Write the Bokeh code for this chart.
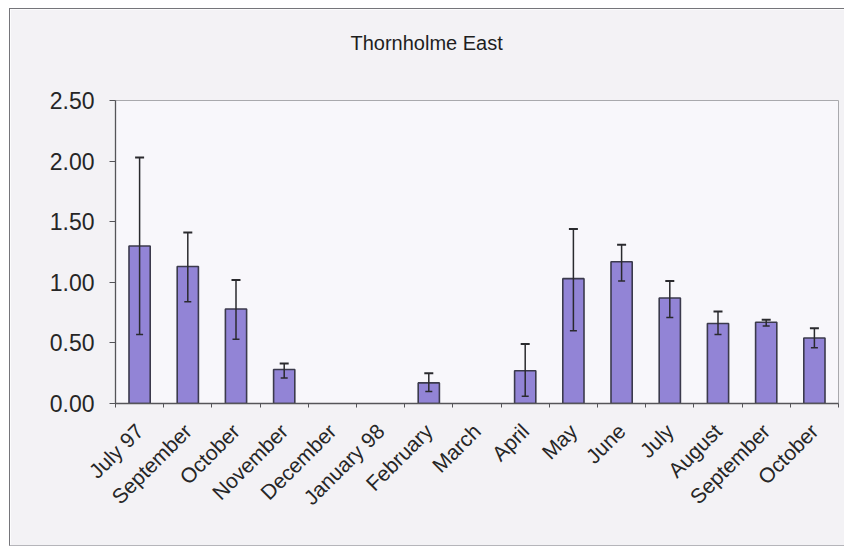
import math
from bokeh.plotting import figure
from bokeh.models import (ColumnDataSource, Whisker, TeeHead, FixedTicker,
                          NumeralTickFormatter, Range1d, Title)
from bokeh.embed import file_html
from bokeh.resources import INLINE

title_text = "Thornholme East"
months = ["July 97", "September", "October", "November", "December", "January 98",
          "February", "March", "April", "May", "June", "July", "August",
          "September", "October"]
means = [1.30, 1.13, 0.78, 0.28, 0.0, 0.0, 0.17, 0.0, 0.27, 1.03, 1.17, 0.87, 0.66, 0.67, 0.54]
err_upper = [2.03, 1.41, 1.02, 0.33, None, None, 0.25, None, 0.49, 1.44, 1.31, 1.01, 0.76, 0.69, 0.62]
err_lower = [0.57, 0.84, 0.53, 0.21, None, None, 0.10, None, 0.06, 0.60, 1.01, 0.71, 0.57, 0.64, 0.46]
y_ticks = [0.0, 0.5, 1.0, 1.5, 2.0, 2.5]

n = len(months)
centers = [i + 0.5 for i in range(n)]
boundaries = [float(i) for i in range(n + 1)]

bars = ColumnDataSource(dict(
    x=[c for c, m in zip(centers, means) if m > 0],
    top=[m for m in means if m > 0],
))
errs = ColumnDataSource(dict(
    x=[c for c, u in zip(centers, err_upper) if u is not None],
    upper=[u for u in err_upper if u is not None],
    lower=[l for l in err_lower if l is not None],
))

FONT = "Liberation Sans"

p = figure(width=835, height=538, output_backend="svg", toolbar_location=None,
           x_range=Range1d(0, n), y_range=Range1d(0, 2.5),
           min_border_left=105, min_border_right=7, min_border_top=91,
           min_border_bottom=144,
           background_fill_color="#f8f7fb", border_fill_color="#f3f2f5",
           outline_line_color="#a9a9ad", outline_line_width=1,
           styles={"margin-left": "9px", "margin-top": "8px",
                   "border-left": "1px solid #75757a",
                   "border-top": "1px solid #75757a",
                   "border-bottom": "1px solid #b5b5ba",
                   "box-sizing": "border-box"})

p.xgrid.visible = False
p.ygrid.visible = False

# visible title (outermost panel)
p.title.text = title_text
p.title.align = "left"
p.title.offset = 235
p.title.standoff = 0
p.title.vertical_align = "bottom"
p.title.text_font = FONT
p.title.text_font_size = "20px"
p.title.text_font_style = "normal"
p.title.text_color = "#1e1e1e"

# spacer panel between the title and the plot frame
p.add_layout(Title(text=" ", text_font_size="1px", standoff=44), "above")

p.vbar(x="x", top="top", bottom=0, width=0.44, source=bars,
       fill_color="#9284d6", line_color="#3b3a4c", line_width=1.6)

w = Whisker(source=errs, base="x", upper="upper", lower="lower",
            line_color="#2a2a2e", line_width=1.5, level="overlay",
            upper_head=TeeHead(size=9, line_color="#2a2a2e", line_width=2),
            lower_head=TeeHead(size=7, line_color="#2a2a2e", line_width=1.5))
p.add_layout(w)

# x axis: category names at bar centres, small ticks at category boundaries
xa = p.xaxis[0]
xa.ticker = FixedTicker(ticks=centers, minor_ticks=boundaries)
xa.major_label_overrides = {c: m for c, m in zip(centers, months)}
xa.major_tick_line_color = None
xa.major_tick_out = 0
xa.major_tick_in = 0
xa.minor_tick_line_color = "#555559"
xa.minor_tick_out = 4
xa.minor_tick_in = 0
xa.axis_line_color = "#555559"
xa.axis_line_width = 1.3
xa.major_label_orientation = math.pi / 4
xa.major_label_text_font = FONT
xa.major_label_text_font_size = "21px"
xa.major_label_text_color = "#262626"
xa.major_label_standoff = 20

ya = p.yaxis[0]
ya.ticker = FixedTicker(ticks=y_ticks)
ya.formatter = NumeralTickFormatter(format="0.00")
ya.minor_tick_line_color = None
ya.major_tick_out = 6
ya.major_tick_in = 0
ya.major_tick_line_color = "#555559"
ya.axis_line_color = "#555559"
ya.axis_line_width = 1.3
ya.major_label_text_font = FONT
ya.major_label_text_font_size = "23px"
ya.major_label_text_color = "#262626"
ya.major_label_standoff = 15

open("out.html", "w").write(file_html(p, INLINE))
